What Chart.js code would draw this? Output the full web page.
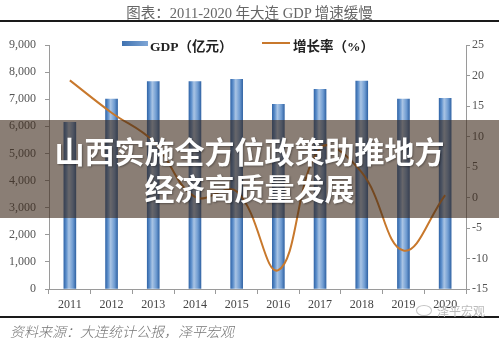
<!DOCTYPE html>
<html>
<head>
<meta charset="utf-8">
<script src="https://cdn.jsdelivr.net/npm/chart.js@4"></script>
<style>
  html, body { margin: 0; padding: 0; background: #fff; }
  #wrap { position: relative; width: 499px; height: 338px; overflow: hidden; }
  #chartCanvas { position: absolute; left: 0; top: 0; }
  .title { position: absolute; left: 0; width: 499px; top: 1px; text-align: center;
           font: 14.5px "Liberation Serif", "Noto Sans CJK SC", serif; color: #666; }
  .rule { position: absolute; left: 0; width: 499px; height: 2px; background: #1a1a1a; }
  .legend { position: absolute; top: 35px; font: bold 13.5px "Liberation Serif", "Noto Sans CJK SC", serif; color: #222; white-space: nowrap; }
  .swatch { position: absolute; top: 41px; left: 122px; width: 26px; height: 5px;
            background: linear-gradient(to right, #3f72b0, #7fa6d6); }
  .lineKey { position: absolute; top: 42px; left: 262px; width: 28px; height: 2px; background: #c8782c; }
  .source { position: absolute; left: 10px; top: 321px; font: italic 300 14px "Noto Sans CJK SC", sans-serif; color: #777; }
  .mark { position: absolute; left: 437px; top: 302px; font: 12px "Noto Sans CJK SC", sans-serif; color: #bbb; }
  .markIcon { position: absolute; left: 416px; top: 305px; width: 14px; height: 9px; border: 1px solid #c4c4c4; border-radius: 50%; }
  .band { position: absolute; left: 0; top: 120px; width: 499px; height: 98px;
          background: rgba(60, 40, 25, 0.6); display: flex; flex-direction: column;
          align-items: center; justify-content: center; }
  .band div { color: #fff; font: bold 30px "Noto Sans CJK SC", sans-serif; line-height: 37px;
              text-shadow: 1px 1px 2px rgba(0,0,0,0.35); }
</style>
</head>
<body>
<div id="wrap">
  <canvas id="chartCanvas" width="499" height="338"></canvas>
  <div class="title">图表：2011-2020 年大连 GDP 增速缓慢</div>
  <div class="rule" style="top: 20px;"></div>
  <div class="swatch"></div>
  <div class="legend" style="left: 150px;">GDP（亿元）</div>
  <div class="lineKey"></div>
  <div class="legend" style="left: 293px;">增长率（%）</div>
  <div class="rule" style="top: 316px;"></div>
  <div class="markIcon"></div>
  <div class="mark">泽平宏观</div>
  <div class="source">资料来源：大连统计公报，泽平宏观</div>
  <div class="band">
    <div>山西实施全方位政策助推地方</div>
    <div>经济高质量发展</div>
  </div>
</div>
<script>
// data: Dalian GDP (100m yuan) and nominal growth rate (%)
const years = ["2011", "2012", "2013", "2014", "2015", "2016", "2017", "2018", "2019", "2020"];
const gdpValues = [6150, 7003, 7650, 7655, 7731, 6810, 7364, 7668, 7001, 7030];
const growthRates = [19.2, 13.9, 9.2, 0.1, 1.0, -11.9, 8.1, 4.1, -8.7, 0.4];

// tick values for the two y axes
const gdpTicks = [0, 1000, 2000, 3000, 4000, 5000, 6000, 7000, 8000, 9000];
const rateTicks = [-15, -10, -5, 0, 5, 10, 15, 20, 25];

const axisGray = "#9a9a9a";
const tickFont = { family: "'Liberation Serif', serif", size: 12 };
const barWidth = 12;

// cylinder-like fill for each bar: dark edges, light stripe left of centre
function barFill(ctx) {
    const chart = ctx.chart;
    const xScale = chart.scales.x;
    if (ctx.type !== "data" || !xScale || !xScale.width) return "#5b8cc8";
    const cx = xScale.getPixelForValue(ctx.dataIndex);
    const g = chart.ctx.createLinearGradient(cx - barWidth / 2, 0, cx + barWidth / 2, 0);
    g.addColorStop(0, "#3468aa");
    g.addColorStop(0.2, "#5d8fcb");
    g.addColorStop(0.42, "#a9c4e4");
    g.addColorStop(0.75, "#6e9bd1");
    g.addColorStop(1, "#3466a6");
    return g;
}

new Chart(document.getElementById("chartCanvas"), {
    data: {
        labels: years,
        datasets: [
            {
                type: "line",
                label: "增长率（%）",
                data: growthRates,
                yAxisID: "y1",
                borderColor: "#c8782c",
                borderWidth: 2,
                pointRadius: 0,
                tension: 0.4,
                order: 0
            },
            {
                type: "bar",
                label: "GDP（亿元）",
                data: gdpValues,
                yAxisID: "y",
                backgroundColor: barFill,
                barThickness: barWidth,
                order: 1
            }
        ]
    },
    options: {
        responsive: false,
        animation: false,
        layout: { padding: { top: 45, left: 0, right: 0, bottom: 0 } },
        plugins: {
            legend: { display: false },
            tooltip: { enabled: false }
        },
        scales: {
            x: {
                grid: { drawOnChartArea: false, drawTicks: true, tickLength: 5, color: axisGray, offset: true },
                border: { color: axisGray, width: 1 },
                ticks: { font: tickFont, color: "#444", padding: 4, maxRotation: 0 },
                afterFit: function (scale) { scale.height = 49; }
            },
            y: {
                position: "left",
                min: 0,
                max: 9000,
                grid: { drawOnChartArea: false, tickLength: 4, color: axisGray },
                border: { color: axisGray, width: 1 },
                ticks: {
                    font: tickFont,
                    color: "#555",
                    padding: 9,
                    callback: function (v) { return v.toLocaleString("en-US"); }
                },
                afterBuildTicks: function (scale) { scale.ticks = gdpTicks.map(v => ({ value: v })); },
                afterFit: function (scale) { scale.width = 49; }
            },
            y1: {
                position: "right",
                min: -15,
                max: 25,
                grid: { drawOnChartArea: false, tickLength: 4, color: axisGray },
                border: { color: axisGray, width: 1 },
                ticks: { font: tickFont, color: "#555", padding: 2 },
                afterBuildTicks: function (scale) { scale.ticks = rateTicks.map(v => ({ value: v })); },
                afterFit: function (scale) { scale.width = 33; }
            }
        }
    }
});
</script>
</body>
</html>
